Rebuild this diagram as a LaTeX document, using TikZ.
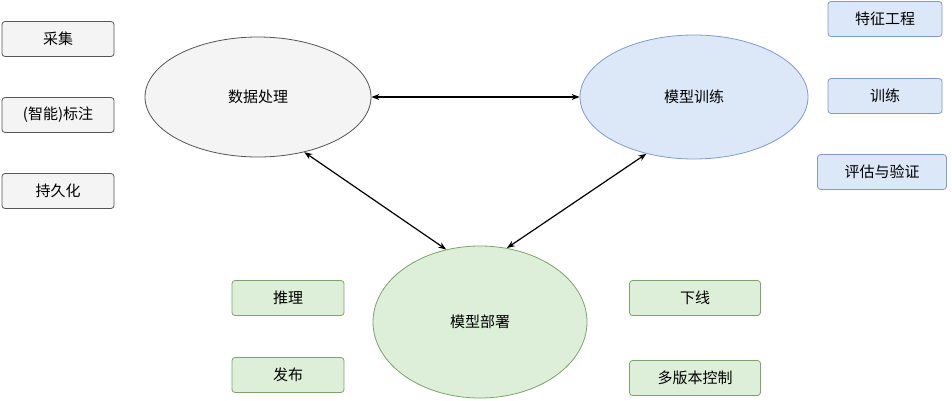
\documentclass[tikz,border=0pt]{standalone}
\usepackage{fontspec}
\setmainfont{Noto Sans CJK SC}
\usetikzlibrary{arrows.meta}
\definecolor{gfill}{HTML}{F4F4F4}\definecolor{gdraw}{HTML}{555555}
\definecolor{bfill}{HTML}{DCE7F8}\definecolor{bdraw}{HTML}{7F9CCB}
\definecolor{nfill}{HTML}{DDEFD8}\definecolor{ndraw}{HTML}{7AA46A}
\tikzset{
 ell/.style={ellipse, draw, line width=0.8pt, inner sep=0pt, font=\fontsize{15}{18}\selectfont},
 tag/.style={draw, rounded corners=3pt, line width=0.8pt, minimum height=35pt, font=\fontsize{15}{18}\selectfont, inner sep=0pt},
 arr/.style={{Stealth[length=8pt]}-{Stealth[length=8pt]}, line width=1.2pt},
}
\usetikzlibrary{shapes.geometric}
\begin{document}
\begin{tikzpicture}[x=1pt,y=-1pt]
\useasboundingbox (0,0) rectangle (952,400);
\node[ell, fill=gfill, draw=gdraw, minimum width=226pt, minimum height=120pt] (dp) at (258,97) {数据处理};
\node[ell, fill=bfill, draw=bdraw, minimum width=228pt, minimum height=124pt] (mt) at (694,97) {模型训练};
\node[ell, fill=nfill, draw=ndraw, minimum width=214pt, minimum height=152pt] (md) at (480,322) {模型部署};
\node[tag, fill=gfill, draw=gdraw, minimum width=112pt] (a1) at (58,39) {采集};
\node[tag, fill=gfill, draw=gdraw, minimum width=112pt] (a2) at (58,115) {(智能)标注};
\node[tag, fill=gfill, draw=gdraw, minimum width=112pt] (a3) at (58,191) {持久化};
\node[tag, fill=bfill, draw=bdraw, minimum width=114pt] (b1) at (885,19) {特征工程};
\node[tag, fill=bfill, draw=bdraw, minimum width=114pt] (b2) at (885,96) {训练};
\node[tag, fill=bfill, draw=bdraw, minimum width=129pt] (b3) at (882,172) {评估与验证};
\node[tag, fill=nfill, draw=ndraw, minimum width=112pt] (c1) at (288,298) {推理};
\node[tag, fill=nfill, draw=ndraw, minimum width=112pt] (c2) at (288,375) {发布};
\node[tag, fill=nfill, draw=ndraw, minimum width=131pt] (d1) at (695,298) {下线};
\node[tag, fill=nfill, draw=ndraw, minimum width=131pt] (d2) at (695,378) {多版本控制};
\draw[arr] (dp.east) -- (mt.west);
\draw[arr] (dp.-50) -- (md.115);
\draw[arr] (mt.-130) -- (md.70);
\end{tikzpicture}
\end{document}
